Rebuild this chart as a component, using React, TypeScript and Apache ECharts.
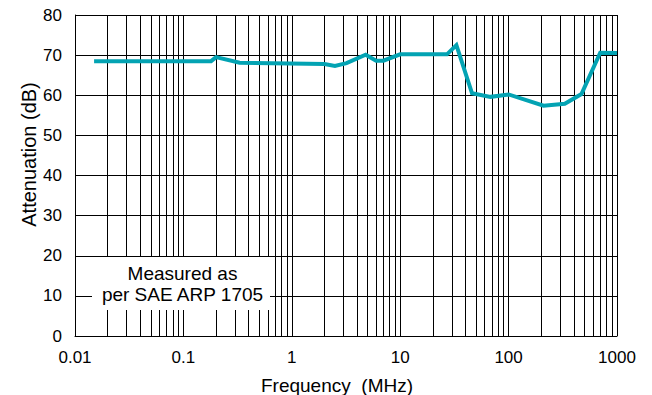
import React, { useEffect, useRef } from "react";
import * as echarts from "echarts";

const freqMHz = [0.015, 0.18, 0.2, 0.33, 2, 2.5, 3.2, 4.8, 6, 7, 10, 27, 33, 46, 68, 100, 210, 330, 470, 700, 1000];
const attenuationDb = [68.5, 68.5, 69.5, 68.1, 67.8, 67.3, 68.0, 70.1, 68.6, 68.6, 70.2, 70.2, 72.5, 60.5, 59.6, 60.2, 57.4, 57.9, 60.3, 70.6, 70.5];
const decadeStarts = [0.01, 0.1, 1, 10, 100];
const minorMultipliers = [2, 3, 4, 5, 6, 7, 8, 9];
const annotationLines = ["Measured as", "per SAE ARP 1705"];

const FONT = "'Liberation Sans', Arial, Helvetica, sans-serif";

export default function App() {
  const ref = useRef<HTMLDivElement>(null);
  useEffect(() => {
    if (!ref.current) return;
    const chart = echarts.init(ref.current, null, { renderer: "svg" });
    const minorLines: number[] = [];
    decadeStarts.forEach((d) => minorMultipliers.forEach((m) => minorLines.push(+(d * m).toPrecision(6))));
    chart.setOption({
      animation: false,
      backgroundColor: "#fff",
      textStyle: { fontFamily: FONT },
      grid: { left: 75, right: 35, top: 15, bottom: 59, containLabel: false, outerBoundsMode: "none" },
      xAxis: {
        type: "log",
        logBase: 10,
        min: 0.01,
        max: 1000,
        name: "Frequency  (MHz)",
        nameLocation: "middle",
        nameGap: 40,
        nameMoveOverlap: false,
        nameTextStyle: { fontSize: 19, color: "#000", fontFamily: FONT, padding: [0, 18, 0, 0] },
        axisLine: { show: true, lineStyle: { color: "#000", width: 1 } },
        axisTick: { show: false },
        axisLabel: {
          fontSize: 17,
          color: "#000",
          fontFamily: FONT,
          margin: 13,
          formatter: (v: number) => String(+(+v).toPrecision(6)),
        },
        splitLine: { show: true, lineStyle: { color: "#000", width: 1 } },
      },
      yAxis: {
        type: "value",
        min: 0,
        max: 80,
        interval: 10,
        name: "Attenuation (dB)",
        nameLocation: "middle",
        nameGap: 36,
        nameMoveOverlap: false,
        nameTextStyle: { fontSize: 20, color: "#000", fontFamily: FONT, padding: [0, 0, 0, 42] },
        axisLine: { show: true, lineStyle: { color: "#000", width: 1 } },
        axisTick: { show: false },
        axisLabel: { fontSize: 17, color: "#000", fontFamily: FONT, margin: 13 },
        splitLine: { show: true, lineStyle: { color: "#000", width: 1 } },
      },
      graphic: [
        {
          type: "rect",
          z: 100,
          shape: { x: 92, y: 257, width: 178, height: 53 },
          style: { fill: "#fff" },
          silent: true,
        },
        {
          type: "text",
          z: 101,
          x: 182.5,
          y: 284,
          silent: true,
          style: {
            text: annotationLines.join("\n"),
            font: `19px ${FONT}`,
            fill: "#000",
            textAlign: "center",
            textVerticalAlign: "middle",
            lineHeight: 21.7,
          },
        },
      ],
      series: [
        {
          type: "line",
          z: 1,
          silent: true,
          data: freqMHz.map((f, i) => [f, attenuationDb[i]]),
          showSymbol: false,
          lineStyle: { opacity: 0 },
          markLine: {
            silent: true,
            symbol: "none",
            animation: false,
            label: { show: false },
            lineStyle: { color: "#000", width: 1, type: "solid" },
            emphasis: { disabled: true },
            data: minorLines.map((v) => ({ xAxis: v })),
          },
        },
        {
          type: "line",
          z: 5,
          silent: true,
          data: freqMHz.map((f, i) => [f, attenuationDb[i]]),
          showSymbol: false,
          lineStyle: { color: "#03a3b3", width: 4, join: "miter" },
        },
      ],
    });
    return () => chart.dispose();
  }, []);
  return (
    <div
      ref={ref}
      style={{ position: "fixed", left: 0, top: 0, width: 652, height: 395, background: "#fff" }}
    />
  );
}
